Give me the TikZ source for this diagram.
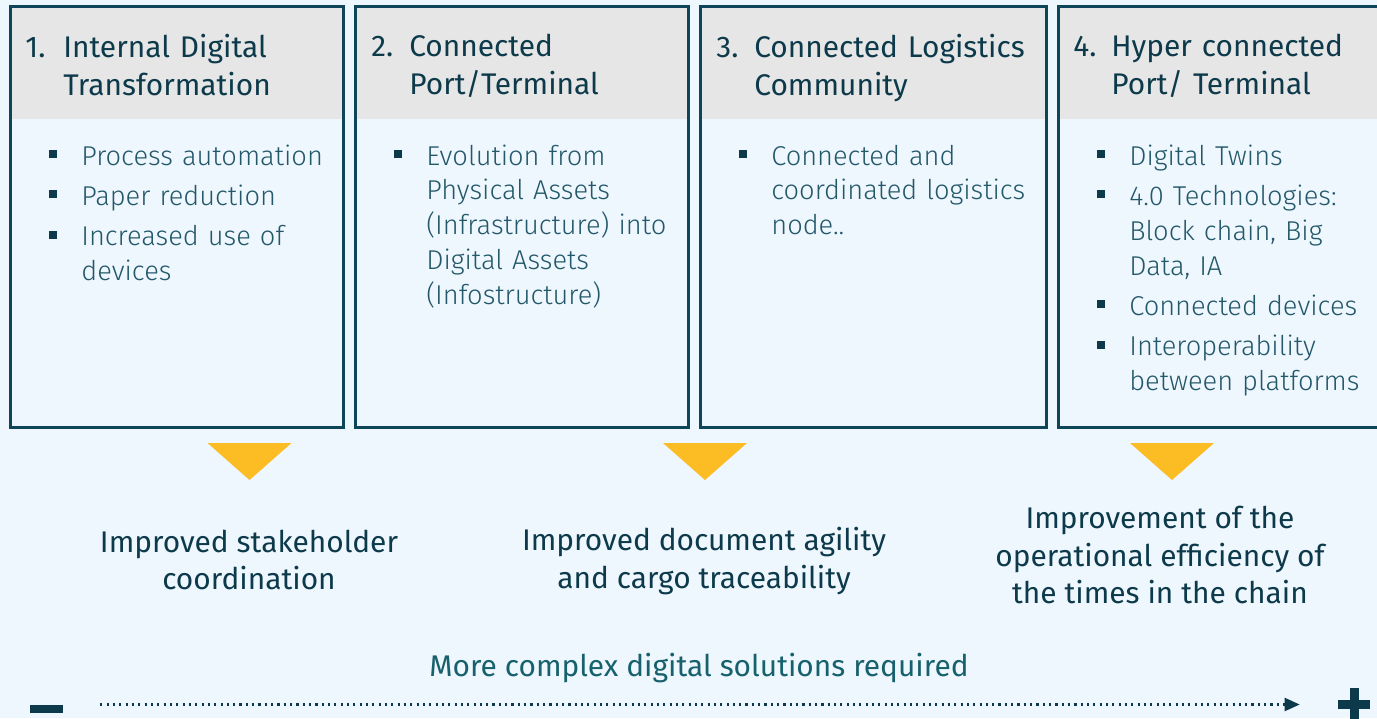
\documentclass[tikz,border=0pt]{standalone}
\usepackage{fontspec}
\setmainfont{Fira Sans}
\newfontfamily\lightfont{Fira Sans Light}
\usepackage{enumitem}
\usetikzlibrary{positioning,arrows.meta}

\definecolor{bgblue}{HTML}{EEF6FE}
\definecolor{hdrgray}{HTML}{E6E6E6}
\definecolor{edge}{HTML}{0E4558}
\definecolor{ink}{HTML}{0D3A4A}
\definecolor{bodyink}{HTML}{235869}
\definecolor{tealtxt}{HTML}{17616C}
\definecolor{gold}{HTML}{FCBC24}

\newcommand{\hnum}[1]{\makebox[0.76cm][l]{#1}}
\newlist{stagelist}{itemize}{1}
\setlist[stagelist]{label=\textcolor{ink}{\rule[0.14cm]{0.16cm}{0.16cm}},
  leftmargin=0.92cm, labelsep=0.48cm, itemsep=0.11cm,
  topsep=0pt, parsep=0pt, partopsep=0pt}

\tikzset{
  stagebox/.style={draw=edge, line width=1.7pt, anchor=north west, inner sep=0pt, minimum height=8.42cm},
  headfill/.style={fill=hdrgray, anchor=north west, inner sep=0pt, minimum height=2.28cm},
  stagetitle/.style={anchor=north west, inner sep=0pt, text width=6.4cm, align=left, text=ink,
    font=\fontsize{17}{21.5}\selectfont},
  stagebody/.style={anchor=north west, inner sep=0pt, text width=6.4cm, align=left, text=bodyink,
    font=\lightfont\fontsize{15.5}{19.8}\selectfont},
  outcome/.style={align=center, text=ink, font=\fontsize{17}{21.5}\selectfont},
  marker/.style={fill=gold},
  progress/.style={draw=ink, line width=1.3pt, dash pattern=on 1.2pt off 2.4pt,
    -{Triangle[length=0.3cm,width=0.26cm]}}
}

\begin{document}
\begin{tikzpicture}[x=0.02cm, y=-0.02cm]
  \clip (0,0) rectangle (1377,718);
  \fill[bgblue] (0,0) rectangle (1377,718);

  % the four stages
  \node[headfill, minimum width=6.66cm] (h1) at (9,5) {};
  \node[headfill, minimum width=6.66cm] (h2) at (354,5) {};
  \node[headfill, minimum width=6.92cm] (h3) at (699,5) {};
  \node[headfill, minimum width=6.66cm] (h4) at (1057,5) {};
  \node[stagebox, minimum width=6.66cm] (s1) at (h1.north west) {};
  \node[stagebox, minimum width=6.66cm] (s2) at (h2.north west) {};
  \node[stagebox, minimum width=6.92cm] (s3) at (h3.north west) {};
  \node[stagebox, minimum width=6.66cm] (s4) at (h4.north west) {};

  \node[stagetitle] (t1) at (25,34) {\hnum{1.}Internal Digital\\\hnum{}Transformation};
  \node[stagetitle] (t2) at (371,34) {\hnum{2.}Connected\\\hnum{}Port/Terminal};
  \node[stagetitle] (t3) at (716,34) {\hnum{3.}Connected Logistics\\\hnum{}Community};
  \node[stagetitle] (t4) at (1073,34) {\hnum{4.}Hyper connected\\\hnum{}Port/ Terminal};

  \node[stagebody] (b1) at (35,130) {\begin{stagelist}
      \item Process automation
      \item Paper reduction
      \item Increased use of\\devices
    \end{stagelist}};
  \node[stagebody] (b2) at (380,130) {\begin{stagelist}
      \item Evolution from\\Physical Assets\\(Infrastructure) into\\Digital Assets\\(Infostructure)
    \end{stagelist}};
  \node[stagebody] (b3) at (725,130) {\begin{stagelist}
      \item Connected and\\coordinated logistics\\node..
    \end{stagelist}};
  \node[stagebody] (b4) at (1083,130) {\begin{stagelist}
      \item Digital Twins
      \item 4.0 Technologies:\\Block chain, Big\\Data, IA
      \item Connected devices
      \item Interoperability\\between platforms
    \end{stagelist}};

  % outcomes
  \foreach \cx in {249.5,705,1172}
    \fill[marker] (\cx-42,443) -- (\cx+42,443) -- (\cx,480) -- cycle;
  \node[outcome] (o1) at (249,560) {Improved stakeholder\\coordination};
  \node[outcome] (o2) at (704,561) {Improved document agility\\and cargo traceability};
  \node[outcome] (o3) at (1160,555) {Improvement of the\\operational efficiency of\\the times in the chain};

  % complexity scale
  \node[text=tealtxt, font=\fontsize{17}{21.5}\selectfont] (scale) at (699,668) {More complex digital solutions required};
  \node[fill=ink, inner sep=0pt, minimum width=0.66cm, minimum height=0.16cm] (minus) at (46.5,709) {};
  \node[inner sep=0pt, minimum size=0.64cm] (plus) at (1354,704.5) {};
  \fill[ink] (plus.west) ++(0,-4.5) rectangle ++(32,9);
  \fill[ink] (plus.north) ++(-4.5,0) rectangle ++(9,40);
  \draw[progress, shorten <=0.74cm, shorten >=0.76cm] (minus.east |- plus) -- (plus.west);
\end{tikzpicture}
\end{document}
